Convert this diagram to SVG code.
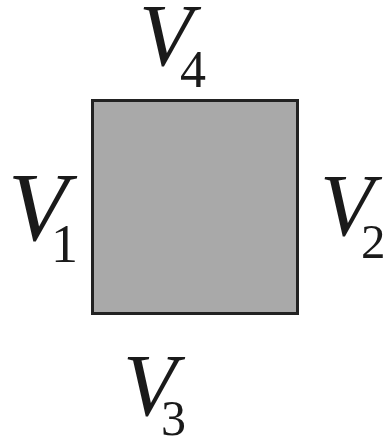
<svg xmlns="http://www.w3.org/2000/svg" width="386" height="439" viewBox="0 0 386 439">
<style>
.v{font-family:"Liberation Serif","Times New Roman",serif;font-style:italic;fill:#1a1a1a}
.s{font-family:"Liberation Serif","Times New Roman",serif;fill:#1a1a1a}
</style>
<rect width="386" height="439" fill="#ffffff"/>
<g id="plate">
<rect x="92.5" y="100.5" width="205" height="213" fill="#a9a9a9" stroke="#222222" stroke-width="3"/>
</g>
<g id="V4"><text class="v" x="139" y="65" font-size="88">V</text><text class="s" x="180" y="87" font-size="52">4</text></g>
<g id="V1"><text class="v" x="8" y="240" font-size="98">V</text><text class="s" x="51" y="262" font-size="54">1</text></g>
<g id="V2"><text class="v" x="320" y="235" font-size="88">V</text><text class="s" x="361" y="258" font-size="49">2</text></g>
<g id="V3"><text class="v" x="123" y="415" font-size="88">V</text><text class="s" x="161" y="435" font-size="50">3</text></g>
</svg>
